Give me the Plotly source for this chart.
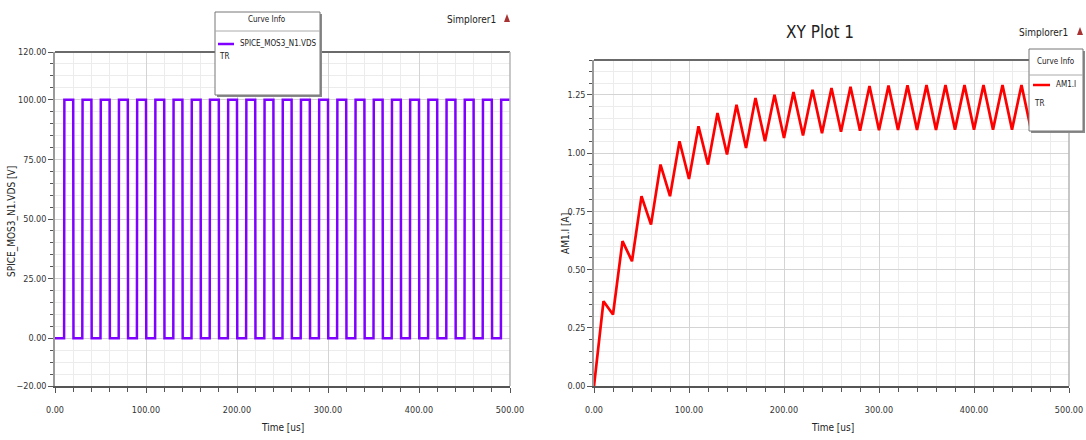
import plotly.graph_objects as go

# ---------------- data ----------------
# Left: SPICE_MOS3_N1.VDS square wave (switch-on / switch-off times in us, levels in V)
vds_rise_us = [10, 30, 50, 70, 90, 110, 130, 150, 170, 190, 210, 230, 250,
               270, 290, 310, 330, 350, 370, 390, 410, 430, 450, 470, 490]
vds_fall_us = [20, 40, 60, 80, 100, 120, 140, 160, 180, 200, 220, 240, 260,
               280, 300, 320, 340, 360, 380, 400, 420, 440, 460, 480, 500]
vds_high_v = 100.0
vds_low_v = 0.0

# Right: AM1.I inductor current (A) at turning points
am1_time_us = [0, 10, 20, 30, 40, 50, 60, 70, 80, 90, 100, 110, 120, 130, 140,
               150, 160, 170, 180, 190, 200, 210, 220, 230, 240, 250, 260, 270,
               280, 290, 300, 310, 320, 330, 340, 350, 360, 370, 380, 390, 400,
               410, 420, 430, 440, 450, 460, 470, 480, 490, 500]
am1_current_a = [0.000, 0.364, 0.307, 0.622, 0.536, 0.815, 0.693, 0.951, 0.815,
                 1.051, 0.889, 1.115, 0.951, 1.172, 0.994, 1.208, 1.022, 1.237,
                 1.051, 1.251, 1.065, 1.262, 1.076, 1.272, 1.086, 1.280, 1.092,
                 1.285, 1.096, 1.288, 1.098, 1.290, 1.099, 1.291, 1.100, 1.292,
                 1.100, 1.292, 1.101, 1.292, 1.101, 1.293, 1.101, 1.293, 1.101,
                 1.293, 1.101, 1.293, 1.101, 1.293, 1.101]

left_x_ticks = [0, 100, 200, 300, 400, 500]
left_y_ticks = [-20, 0, 25, 50, 75, 100, 120]
right_y_ticks = [0, 0.25, 0.5, 0.75, 1.0, 1.25]

# ---------------- build square wave ----------------
edge = 0.3
vx, vy = [0], [vds_low_v]
for r, f in zip(vds_rise_us, vds_fall_us):
    vx += [r, r + edge]
    vy += [vds_low_v, vds_high_v]
    if f < 500:
        vx += [f, f + edge]
        vy += [vds_high_v, vds_low_v]
    else:
        vx += [f]
        vy += [vds_high_v]

W, H = 1086, 440
def px(x):
    return x / W
def py(y):
    return 1 - y / H

FONT = "Liberation Sans Narrow, DejaVu Sans Condensed, Arial Narrow, Liberation Sans, sans-serif"
PURPLE = "#8000ff"
RED = "#ff0000"

def mkfont(size, color="#222222"):
    return dict(family=FONT, size=size, color=color)

fig = go.Figure()
fig.add_trace(go.Scatter(x=vx, y=vy, mode="lines",
                         line=dict(color=PURPLE, width=2.5),
                         xaxis="x", yaxis="y", showlegend=False,
                         hoverinfo="skip"))
fig.add_trace(go.Scatter(x=am1_time_us, y=am1_current_a, mode="lines",
                         line=dict(color=RED, width=2.7),
                         xaxis="x2", yaxis="y2", showlegend=False,
                         hoverinfo="skip"))

axis_common = dict(
    automargin=False,
    showline=True, linecolor="#9a9a9a", linewidth=1.5, mirror=False,
    ticks="outside", ticklen=5, tickcolor="#555555", tickwidth=1,
    showgrid=True, gridcolor="#d4d4d4", gridwidth=1,
    zeroline=False,
    ticklabeloverflow="allow",
    tickfont=mkfont(9, "#333333"),
)

R_X0, R_X1 = 594, 1069

fig.update_layout(
    width=W, height=H,
    margin=dict(l=0, r=0, t=0, b=0, autoexpand=False),
    paper_bgcolor="white", plot_bgcolor="white",
    xaxis=dict(axis_common, domain=[px(55), px(510)], range=[0, 500],
               tickvals=left_x_ticks, tickformat=".2f", anchor="y",
               linecolor="#555555", linewidth=2, ticklabelstandoff=9,
               minor=dict(dtick=20, tick0=0, ticks="outside", ticklen=4,
                          tickcolor="#555555", showgrid=True,
                          gridcolor="#ececec")),
    yaxis=dict(axis_common, domain=[py(386), py(52)], range=[-20, 120],
               tickvals=left_y_ticks, tickformat=".2f", anchor="x",
               minor=dict(dtick=5, tick0=0, ticks="outside", ticklen=3,
                          tickcolor="#555555", showgrid=True,
                          gridcolor="#ececec")),
    xaxis2=dict(axis_common, domain=[px(R_X0), px(R_X1)], range=[0, 500],
                tickvals=left_x_ticks, tickformat=".2f", anchor="y2",
                linecolor="#555555", linewidth=2, ticklabelstandoff=9,
                minor=dict(dtick=20, tick0=0, ticks="outside", ticklen=4,
                           tickcolor="#555555", showgrid=True,
                           gridcolor="#ececec")),
    yaxis2=dict(axis_common, domain=[py(386), py(60)], range=[0, 1.40],
                tickvals=right_y_ticks, tickformat=".2f", anchor="x2",
                minor=dict(dtick=0.05, tick0=0, ticks="outside", ticklen=3,
                           tickcolor="#555555", showgrid=True,
                           gridcolor="#ececec")),
)

shapes = []
# plot borders (top dark, right light)
for (x0, x1, yt, yb) in [(55, 510, 52, 386), (R_X0, R_X1, 60, 386)]:
    shapes.append(dict(type="line", xref="paper", yref="paper",
                       x0=px(x0), x1=px(x1), y0=py(yt), y1=py(yt),
                       line=dict(color="#6a6a6a", width=2), layer="above"))
    shapes.append(dict(type="line", xref="paper", yref="paper",
                       x0=px(x1), x1=px(x1), y0=py(yt), y1=py(yb),
                       line=dict(color="#b5b5b5", width=1.5), layer="above"))

def legend_box(x0, y0, x1, y1, sep_y):
    out = []
    out.append(dict(type="rect", xref="paper", yref="paper",
                    x0=px(x0 + 2), x1=px(x1 + 2), y0=py(y1 + 2), y1=py(y0 + 2),
                    fillcolor="#8a8a8a", line=dict(width=0), layer="above"))
    out.append(dict(type="rect", xref="paper", yref="paper",
                    x0=px(x0), x1=px(x1), y0=py(y1), y1=py(y0),
                    fillcolor="white", line=dict(color="#777777", width=1),
                    layer="above"))
    out.append(dict(type="line", xref="paper", yref="paper",
                    x0=px(x0), x1=px(x1), y0=py(sep_y), y1=py(sep_y),
                    line=dict(color="#aaaaaa", width=1), layer="above"))
    return out

shapes += legend_box(215, 12, 320, 95, 31)
shapes.append(dict(type="line", xref="paper", yref="paper",
                   x0=px(218), x1=px(234), y0=py(44), y1=py(44),
                   line=dict(color=PURPLE, width=2.5), layer="above"))
shapes += legend_box(1029, 49, 1083, 131, 75)
shapes.append(dict(type="line", xref="paper", yref="paper",
                   x0=px(1033), x1=px(1050), y0=py(85), y1=py(85),
                   line=dict(color=RED, width=2.5), layer="above"))
# Simplorer triangles
for (cx, cy) in [(507, 18), (1080, 31)]:
    shapes.append(dict(type="path", xref="paper", yref="paper",
                       path=f"M {px(cx-3)} {py(cy+4)} L {px(cx+3)} {py(cy+4)} L {px(cx)} {py(cy-4)} Z",
                       fillcolor="#a83232", line=dict(width=0), layer="above"))
fig.update_layout(shapes=shapes)

def ann(text, x, y, size=10, xanchor="center", angle=0, color="#222222"):
    return dict(text=text, x=px(x), y=py(y), xref="paper", yref="paper",
                showarrow=False, xanchor=xanchor, yanchor="middle",
                textangle=angle, font=mkfont(size, color))

anns = [
    ann("Time [us]", 282, 427, 10),
    ann("Time [us]", 832, 427, 10),
    ann("SPICE_MOS3_N1.VDS [V]", 12, 222, 10, angle=-90),
    ann("AM1.I [A]", 565, 234, 10, angle=-90),
    ann("XY Plot 1", 820, 32, 17),
    ann("Simplorer1", 471, 20, 10),
    ann("Simplorer1", 1043, 33, 10),
    ann("Curve Info", 267, 19, 8),
    ann("SPICE_MOS3_N1.VDS", 238, 44, 8, xanchor="left"),
    ann("TR", 217, 57, 8, xanchor="left"),
    ann("Curve Info", 1056, 62, 8),
    ann("AM1.I", 1054, 85, 8, xanchor="left"),
    ann("TR", 1032, 103, 8, xanchor="left"),
]
fig.update_layout(annotations=anns)

fig.write_html(
    "out.html",
    config={"displayModeBar": False},
    post_script="document.body.style.margin='0';document.body.style.padding='0';"
                "document.body.style.overflow='hidden';",
)
